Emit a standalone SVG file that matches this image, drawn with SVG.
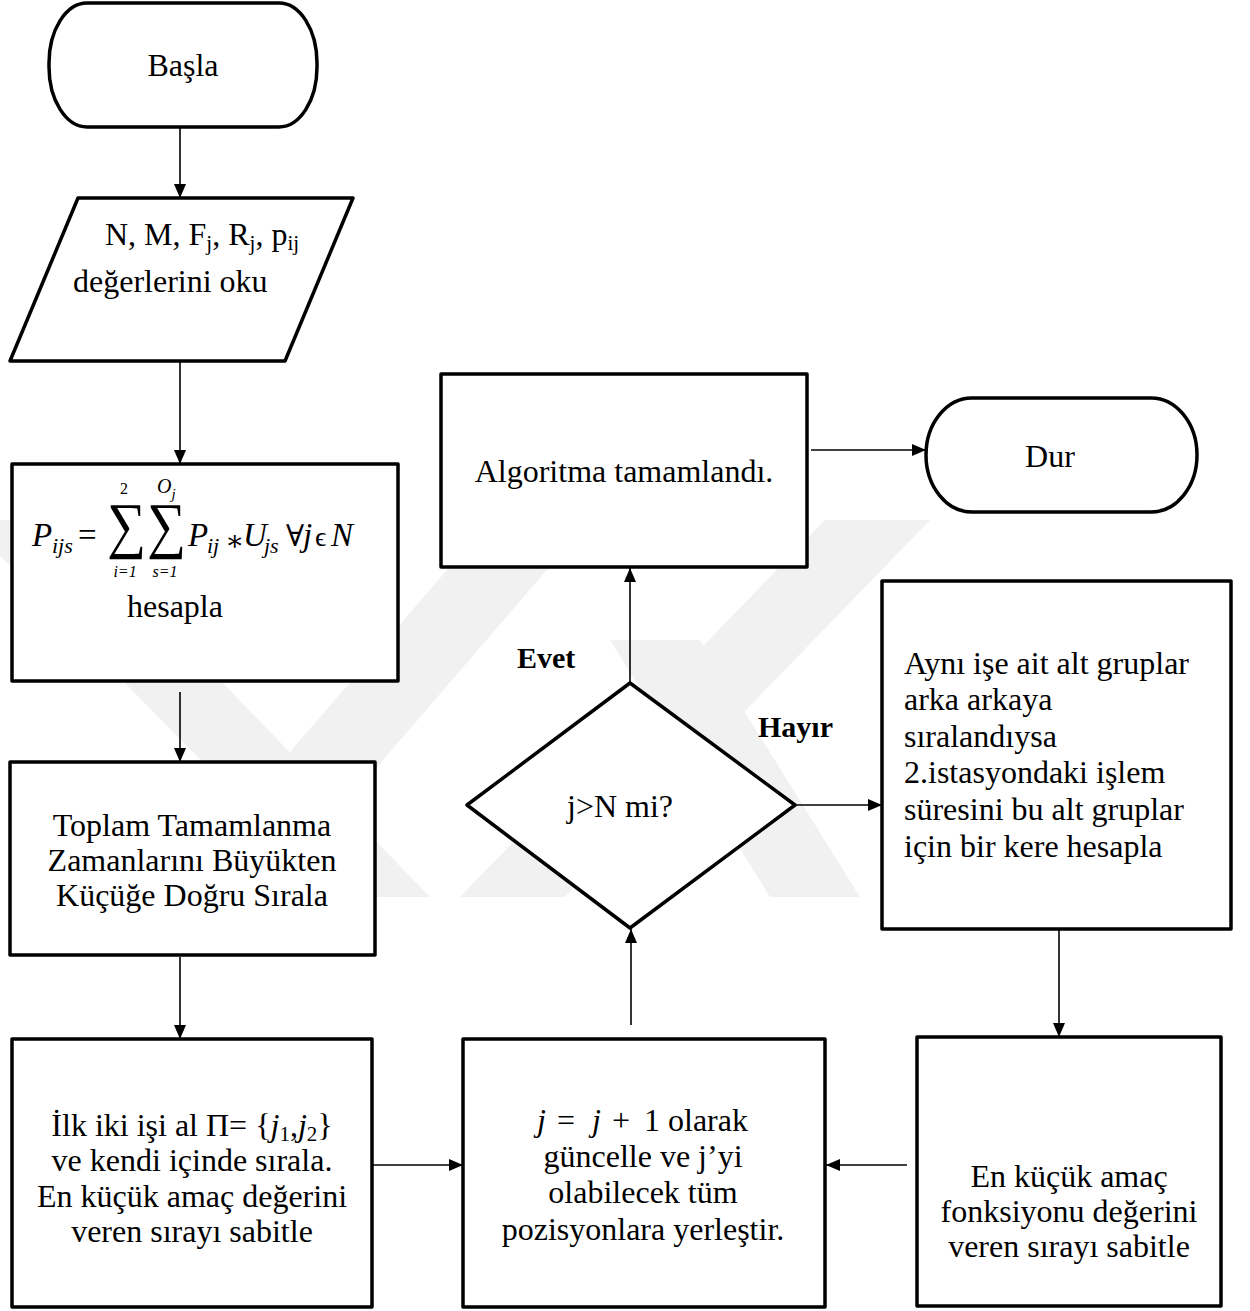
<svg xmlns="http://www.w3.org/2000/svg" width="1250" height="1311" viewBox="0 0 1250 1311">
  <style>
    .shape { fill: #ffffff; stroke: #000000; stroke-width: 3.5; stroke-linejoin: round; }
    .wire { fill: none; stroke: #000000; stroke-width: 1.6; marker-end: url(#ah); }
    .t { font-family: "Liberation Serif", "Times New Roman", serif; font-size: 32px; fill: #000000; }
    .c { text-anchor: middle; }
    .b { font-weight: bold; font-size: 30px; }
    .m { font-family: "Liberation Serif", "Times New Roman", serif; font-style: italic; fill: #000000; }
    .mu { font-family: "Liberation Serif", "DejaVu Serif", serif; fill: #000000; }
    .wm { fill: #f1f1f1; }
  </style>
  <defs>
    <marker id="ah" viewBox="0 0 14 12" refX="14" refY="6" markerWidth="14" markerHeight="12" markerUnits="userSpaceOnUse" orient="auto">
      <path d="M0,0 L14,6 L0,12 z" fill="#000000"/>
    </marker>
  </defs>

  <rect width="1250" height="1311" fill="#ffffff"/>

  <!-- faint background emblem -->
  <g id="emblem">
    <polygon class="wm" points="-35,520 65,520 430,897 335,897"/>
    <polygon class="wm" points="165,897 265,897 590,520 490,520"/>
    <polygon class="wm" points="460,897 565,897 930,520 825,520"/>
    <polygon class="wm" points="610,640 700,640 860,897 770,897"/>
  </g>

  <!-- connectors -->
  <g id="connectors">
    <line class="wire" x1="180" y1="127" x2="180" y2="198"/>
    <line class="wire" x1="180" y1="361" x2="180" y2="464"/>
    <line class="wire" x1="180" y1="692" x2="180" y2="762"/>
    <line class="wire" x1="180" y1="957" x2="180" y2="1039"/>
    <line class="wire" x1="356" y1="1165" x2="463" y2="1165"/>
    <line class="wire" x1="907" y1="1165" x2="826" y2="1165"/>
    <line class="wire" x1="631" y1="1025" x2="631" y2="929"/>
    <line class="wire" x1="630" y1="682" x2="630" y2="568"/>
    <line class="wire" x1="811" y1="450" x2="926" y2="450"/>
    <line class="wire" x1="796" y1="805" x2="882" y2="805"/>
    <line class="wire" x1="1059" y1="930" x2="1059" y2="1037"/>
  </g>

  <!-- start -->
  <g id="start">
    <rect class="shape" x="49" y="3" width="268" height="124" rx="38" ry="60"/>
    <text class="t c" x="183" y="76">Başla</text>
  </g>

  <!-- input -->
  <g id="read-input">
    <polygon class="shape" points="78,198 353,198 285,361 10,361"/>
    <text class="t" x="105" y="245">N, M, F<tspan font-size="21" dy="5">j</tspan><tspan dy="-5">, R</tspan><tspan font-size="21" dy="5">j</tspan><tspan dy="-5">, p</tspan><tspan font-size="21" dy="5">ij</tspan></text>
    <text class="t" x="73" y="292">değerlerini oku</text>
  </g>

  <!-- total processing time -->
  <g id="compute-p">
    <rect class="shape" x="12" y="464" width="386" height="217"/>
    <text class="m" font-size="33" x="32" y="546">P</text>
    <text class="m" font-size="22" x="52" y="553">ijs</text>
    <text class="mu" font-size="33" x="78" y="546">=</text>
    <text class="mu" font-size="62" transform="translate(107,546) scale(0.88,1)">∑</text>
    <text class="mu" font-size="62" transform="translate(147,546) scale(0.88,1)">∑</text>
    <text class="mu" font-size="16" x="124" y="494" text-anchor="middle">2</text>
    <text class="m" font-size="20" x="157" y="493">O<tspan font-size="15" dy="6">j</tspan></text>
    <text class="m" font-size="16" x="125" y="577" text-anchor="middle">i<tspan class="mu">=1</tspan></text>
    <text class="m" font-size="16" x="165" y="577" text-anchor="middle">s<tspan class="mu">=1</tspan></text>
    <text class="m" font-size="33" x="188" y="546">P</text>
    <text class="m" font-size="22" x="207" y="553">ij</text>
    <text class="mu" font-size="28" x="225" y="550">∗</text>
    <text class="m" font-size="33" x="243" y="546">U</text>
    <text class="m" font-size="22" x="264" y="553">js</text>
    <text class="mu" font-size="30" x="286" y="546">∀</text>
    <text class="m" font-size="33" x="303" y="546">j</text>
    <text class="mu" font-size="28" x="315" y="546">ϵ</text>
    <text class="m" font-size="33" x="331" y="546">N</text>
    <text class="t" x="127" y="617">hesapla</text>
  </g>

  <!-- sort -->
  <g id="sort">
    <rect class="shape" x="10" y="762" width="365" height="193"/>
    <text class="t c" x="192" y="836">Toplam Tamamlanma</text>
    <text class="t c" x="192" y="871">Zamanlarını Büyükten</text>
    <text class="t c" x="192" y="906">Küçüğe Doğru Sırala</text>
  </g>

  <!-- first two jobs -->
  <g id="first-two">
    <rect class="shape" x="12" y="1039" width="360" height="268"/>
    <text class="t c" x="192" y="1136">İlk iki işi al Π= {<tspan class="m">j</tspan><tspan font-size="21" dy="5">1</tspan><tspan dy="-5">,</tspan><tspan class="m">j</tspan><tspan font-size="21" dy="5">2</tspan><tspan dy="-5">}</tspan></text>
    <text class="t c" x="192" y="1171">ve kendi içinde sırala.</text>
    <text class="t c" x="192" y="1207">En küçük amaç değerini</text>
    <text class="t c" x="192" y="1242">veren sırayı sabitle</text>
  </g>

  <!-- next job insertion -->
  <g id="insert-next">
    <rect class="shape" x="463" y="1039" width="362" height="268"/>
    <text class="m" font-size="32" x="537" y="1131">j</text>
    <text class="mu" font-size="32" x="557" y="1131">=</text>
    <text class="m" font-size="32" x="592" y="1131">j</text>
    <text class="mu" font-size="32" x="612" y="1131">+</text>
    <text class="mu" font-size="32" x="644" y="1131">1</text>
    <text class="t" x="668" y="1131">olarak</text>
    <text class="t c" x="643" y="1167">güncelle ve j’yi</text>
    <text class="t c" x="643" y="1203">olabilecek tüm</text>
    <text class="t c" x="643" y="1240">pozisyonlara yerleştir.</text>
  </g>

  <!-- fix best order -->
  <g id="fix-best">
    <rect class="shape" x="917" y="1037" width="304" height="269"/>
    <text class="t c" x="1069" y="1187">En küçük amaç</text>
    <text class="t c" x="1069" y="1222">fonksiyonu değerini</text>
    <text class="t c" x="1069" y="1257">veren sırayı sabitle</text>
  </g>

  <!-- subgroup rule -->
  <g id="subgroups">
    <rect class="shape" x="882" y="581" width="349" height="348"/>
    <text class="t" x="904" y="674">Aynı işe ait alt gruplar</text>
    <text class="t" x="904" y="710">arka arkaya</text>
    <text class="t" x="904" y="747">sıralandıysa</text>
    <text class="t" x="904" y="783">2.istasyondaki işlem</text>
    <text class="t" x="904" y="820">süresini bu alt gruplar</text>
    <text class="t" x="904" y="857">için bir kere hesapla</text>
  </g>

  <!-- decision -->
  <g id="decision">
    <polygon class="shape" points="630,683 795,805 630,928 467,805"/>
    <text class="t c" x="620" y="817">j&gt;N mi?</text>
    <text class="t b" x="517" y="668">Evet</text>
    <text class="t b" x="758" y="737">Hayır</text>
  </g>

  <!-- done -->
  <g id="done">
    <rect class="shape" x="441" y="374" width="366" height="193"/>
    <text class="t c" x="624" y="482">Algoritma tamamlandı.</text>
  </g>

  <!-- stop -->
  <g id="stop">
    <rect class="shape" x="926" y="398" width="271" height="114" rx="46" ry="57"/>
    <text class="t c" x="1050" y="467">Dur</text>
  </g>
</svg>
